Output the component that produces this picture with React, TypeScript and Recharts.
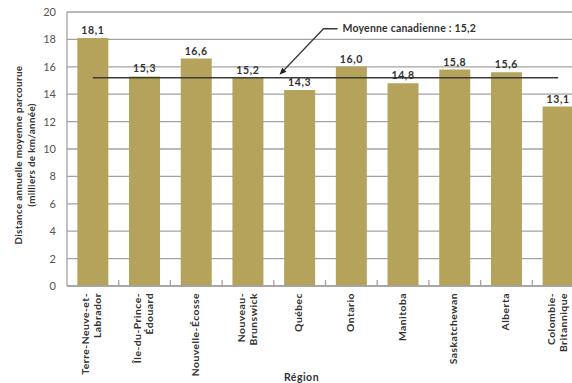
import React from 'react';
import { BarChart, Bar, XAxis, YAxis, CartesianGrid, ReferenceLine, LabelList } from 'recharts';

// Average annual distance driven per vehicle, by province
const regions = [
  'Terre-Neuve-et-Labrador',
  'Île-du-Prince-Édouard',
  'Nouvelle-Écosse',
  'Nouveau-Brunswick',
  'Québec',
  'Ontario',
  'Manitoba',
  'Saskatchewan',
  'Alberta',
  'Colombie-Britannique',
];

const regionTickLines = [
  ['Terre-Neuve-et-', 'Labrador'],
  ['Île-du-Prince-', 'Édouard'],
  ['Nouvelle-Écosse'],
  ['Nouveau-', 'Brunswick'],
  ['Québec'],
  ['Ontario'],
  ['Manitoba'],
  ['Saskatchewan'],
  ['Alberta'],
  ['Colombie-', 'Britannique'],
];

const distances = [18.1, 15.3, 16.6, 15.2, 14.3, 16.0, 14.8, 15.8, 15.6, 13.1];

const yTicks = [0, 2, 4, 6, 8, 10, 12, 14, 16, 18, 20];

const canadianAverage = 15.2;
const averageLabel = 'Moyenne canadienne : 15,2';

const yAxisTitle = ['Distance annuelle moyenne parcourue', '(milliers de km/année)'];
const xAxisTitle = 'Région';

const data = regions.map((region, i) => ({ region, distance: distances[i] }));

const BAR_COLOR = '#b5a35b';
const GRID_COLOR = '#a2a2a2';
const TEXT_DARK = '#333333';
const TICK_MARGIN = 7;

const formatValue = (v: number) => v.toFixed(1).replace('.', ',');

function RegionTick(props: any) {
  const { x, y, payload, index, visibleTicksCount } = props;
  const lines = regionTickLines[index] ?? [String(payload.value)];
  const half = payload?.offset ?? 0;
  const axisY = y - TICK_MARGIN;
  const lh = 12;
  const start = -((lines.length - 1) * lh) / 2;
  return (
    <g>
      {index < (visibleTicksCount ?? regions.length) - 1 && (
        <line x1={x + half} x2={x + half} y1={axisY} y2={axisY - 6} stroke={GRID_COLOR} strokeWidth={1.3} />
      )}
      <text
        transform={`translate(${x - 1},${y}) rotate(-90)`}
        textAnchor="end"
        fontSize={10.3}
        fontWeight={700}
        letterSpacing={0.5}
        fill={TEXT_DARK}
      >
        {lines.map((l, i) => (
          <tspan key={i} x={0} y={start + i * lh} dy="0.35em">
            {l}
          </tspan>
        ))}
      </text>
    </g>
  );
}

function YTitle(props: any) {
  const vb = props.viewBox || {};
  const cy = vb.y + vb.height / 2 + 6;
  const xs = [19, 32];
  return (
    <g>
      {yAxisTitle.map((t, i) => (
        <text
          key={i}
          transform={`translate(${xs[i]},${cy}) rotate(-90)`}
          textAnchor="middle"
          dy="0.35em"
          fontSize={9.8}
          fontWeight={700}
          letterSpacing={0.35}
          fill={TEXT_DARK}
        >
          {t}
        </text>
      ))}
    </g>
  );
}

function XTitle(props: any) {
  const vb = props.viewBox || {};
  const cx = vb.x + vb.width / 2 - 24;
  const cy = vb.y + vb.height - 2;
  return (
    <text x={cx} y={cy} textAnchor="middle" fontSize={10.5} fontWeight={700} letterSpacing={0.5} fill={TEXT_DARK}>
      {xAxisTitle}
    </text>
  );
}

// Average line with the callout text and arrow leader
function AverageLine(props: any) {
  const { x1, y1, x2, y2 } = props;
  const mid = (x1 + x2) / 2;
  const tipX = mid - 46;
  const tipY = y1 - 3;
  const cornerX = mid - 2;
  const cornerY = y1 - 49;
  const endX = mid + 12;
  const dx = tipX - cornerX;
  const dy = tipY - cornerY;
  const len = Math.sqrt(dx * dx + dy * dy);
  const ux = dx / len;
  const uy = dy / len;
  const ah = 7;
  const aw = 3;
  const bx = tipX - ux * ah;
  const by = tipY - uy * ah;
  return (
    <g>
      <line x1={x1} y1={y1} x2={x2} y2={y2} stroke="#3a3a3a" strokeWidth={1.5} />
      <polyline
        points={`${endX},${cornerY} ${cornerX},${cornerY} ${bx},${by}`}
        fill="none"
        stroke="#3a3a3a"
        strokeWidth={1.3}
      />
      <polygon
        points={`${tipX},${tipY} ${bx - uy * aw},${by + ux * aw} ${bx + uy * aw},${by - ux * aw}`}
        fill="#222"
      />
      <text
        x={endX + 5}
        y={cornerY}
        dy="0.35em"
        fontSize={10.5}
        fontWeight={700}
        letterSpacing={0.2}
        fill={TEXT_DARK}
      >
        {averageLabel}
      </text>
    </g>
  );
}

export default function App() {
  return (
    <div
      style={{
        position: 'absolute',
        left: 0,
        top: 0,
        width: 572,
        height: 383,
        overflow: 'hidden',
        background: '#fff',
        fontFamily: "Lato, 'Open Sans', sans-serif",
      }}
    >
      <BarChart
        width={600}
        height={383}
        data={data}
        margin={{ top: 12, right: 16, bottom: 0, left: 0 }}
        barCategoryGap="20%"
      >
        <CartesianGrid vertical={false} stroke={GRID_COLOR} strokeWidth={1.3} />
        <XAxis
          dataKey="region"
          interval={0}
          height={97}
          tickSize={0}
          tickMargin={TICK_MARGIN}
          tickLine={false}
          axisLine={{ stroke: GRID_COLOR, strokeWidth: 1.3 }}
          tick={<RegionTick />}
          label={(p: any) => <XTitle {...p} />}
        />
        <YAxis
          width={67}
          domain={[0, 20]}
          ticks={yTicks}
          interval={0}
          tickLine={false}
          tickMargin={5}
          axisLine={{ stroke: GRID_COLOR, strokeWidth: 1.3 }}
          tick={{ fontSize: 11, fill: '#555' }}
          label={(p: any) => <YTitle {...p} />}
        />
        <Bar dataKey="distance" fill={BAR_COLOR} isAnimationActive={false}>
          <LabelList
            dataKey="distance"
            position="top"
            offset={4}
            formatter={(v: any) => formatValue(Number(v))}
            style={{ fontSize: 10.5, fontWeight: 700, fill: TEXT_DARK, letterSpacing: 0.6 }}
          />
        </Bar>
        <ReferenceLine
          segment={[
            { x: regions[0], y: canadianAverage },
            { x: regions[regions.length - 1], y: canadianAverage },
          ]}
          shape={(p: any) => <AverageLine {...p} />}
        />
      </BarChart>
    </div>
  );
}
